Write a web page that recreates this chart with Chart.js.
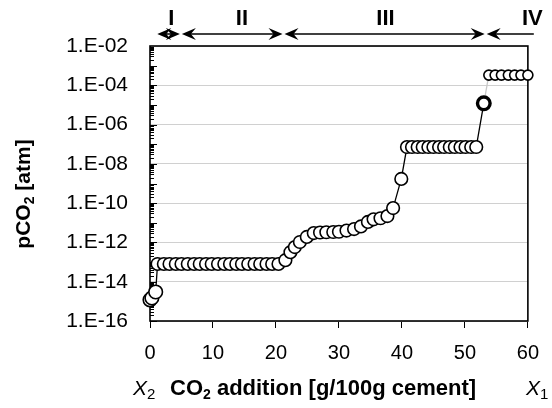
<!DOCTYPE html>
<html><head><meta charset="utf-8">
<script src="https://cdn.jsdelivr.net/npm/chart.js@4/dist/chart.umd.min.js"></script>
<style>html,body{margin:0;padding:0;background:#fff;} canvas{display:block;}</style>
</head><body>
<canvas id="c" width="552" height="408"></canvas>
<script>
// ---- data ----
const initialX = [0, 0.3, 0.9];
const initialY = [1.2e-15, 1.5e-15, 3.0e-15];
const stage2X = [1.2, 2.2, 3.1, 4.1, 5.0, 6.0, 7.0, 7.9, 8.9, 9.8, 10.8, 11.8, 12.7, 13.7, 14.6, 15.6, 16.6, 17.5, 18.5, 19.4, 20.4];
const stage2Y = [8e-14, 8e-14, 8e-14, 8e-14, 8e-14, 8e-14, 8e-14, 8e-14, 8e-14, 8e-14, 8e-14, 8e-14, 8e-14, 8e-14, 8e-14, 8e-14, 8e-14, 8e-14, 8e-14, 8e-14, 8e-14];
const stage3RiseX = [21.5, 22.3, 23.0, 23.8, 24.9, 26.0, 27.0, 28.0, 29.1, 30.0, 31.2, 32.4, 33.5, 34.6, 35.5, 36.6, 37.7, 38.6, 39.9];
const stage3RiseY = [1.25e-13, 3.2e-13, 5.8e-13, 1.05e-12, 1.9e-12, 3.0e-12, 3.2e-12, 3.3e-12, 3.4e-12, 3.5e-12, 4.0e-12, 4.8e-12, 6.5e-12, 1.1e-11, 1.5e-11, 1.7e-11, 2.2e-11, 5.6e-11, 1.7e-9];
const stage3PlateauX = [40.8, 41.6, 42.5, 43.3, 44.2, 45.0, 45.9, 46.7, 47.6, 48.4, 49.3, 50.1, 51.0, 51.8, 53.0];
const stage3PlateauY = [7.2e-8, 7.2e-8, 7.2e-8, 7.2e-8, 7.2e-8, 7.2e-8, 7.2e-8, 7.2e-8, 7.2e-8, 7.2e-8, 7.2e-8, 7.2e-8, 7.2e-8, 7.2e-8, 1.2e-5];
const stage4X = [53.8, 54.8, 55.8, 56.9, 57.9, 58.9, 60.0];
const stage4Y = [3.3e-4, 3.3e-4, 3.3e-4, 3.3e-4, 3.3e-4, 3.3e-4, 3.3e-4];
const yTickValues = [1e-16, 1e-14, 1e-12, 1e-10, 1e-8, 1e-6, 1e-4, 1e-2];
const xTickValues = [0, 10, 20, 30, 40, 50, 60];
const stageNames = ['I', 'II', 'III', 'IV'];
const stageEdges = [1.0, 4.9, 21.2, 53.3, 61.1];
const stageLabelAt = [3.4, 14.6, 37.4, 60.7];

const allX = [...initialX, ...stage2X, ...stage3RiseX, ...stage3PlateauX, ...stage4X];
const allY = [...initialY, ...stage2Y, ...stage3RiseY, ...stage3PlateauY, ...stage4Y];
const points = allX.map((x, i) => ({x: x, y: allY[i]}));

const FONT = "'Liberation Sans', Arial, sans-serif";

function fmtExp(v) {
  const e = Math.round(Math.log10(v));
  return '1.E' + (e < 0 ? '-' : '+') + String(Math.abs(e)).padStart(2, '0');
}

function drawParts(ctx, parts, x, y) {
  let cx = x;
  for (const p of parts) {
    ctx.font = p.font;
    ctx.fillText(p.t, cx, y + (p.dy || 0));
    cx += ctx.measureText(p.t).width;
  }
  return cx - x;
}
function measureParts(ctx, parts) {
  let w = 0;
  for (const p of parts) { ctx.font = p.font; w += ctx.measureText(p.t).width; }
  return w;
}

function arrowHead(ctx, tipX, y, dir) {
  ctx.beginPath();
  ctx.moveTo(tipX, y);
  ctx.lineTo(tipX - dir * 14, y - 6);
  ctx.lineTo(tipX - dir * 9, y);
  ctx.lineTo(tipX - dir * 14, y + 6);
  ctx.closePath();
  ctx.fill();
}

const framePlugin = {
  id: 'frame',
  beforeDatasetsDraw(chart) {
    const {ctx, chartArea: a, scales: {y}} = chart;
    ctx.save();
    ctx.strokeStyle = '#000';
    ctx.lineWidth = 1;
    ctx.beginPath();
    for (let e = -16; e < -2; e++) {
      for (let m = 1; m <= 9; m++) {
        const v = m * Math.pow(10, e);
        const py = Math.round(y.getPixelForValue(v)) + 0.5;
        const len = m === 1 ? 7 : 4;
        ctx.moveTo(a.left, py);
        ctx.lineTo(a.left + len, py);
      }
    }
    ctx.stroke();
    ctx.lineWidth = 1.6;
    ctx.strokeRect(a.left, a.top, a.right - a.left, a.bottom - a.top);
    ctx.restore();
  },
  afterDraw(chart) {
    const {ctx, scales: {x}} = chart;
    ctx.save();
    ctx.fillStyle = '#000';
    ctx.strokeStyle = '#000';
    const ay = 34;
    ctx.lineWidth = 1.5;
    for (let i = 0; i < stageNames.length; i++) {
      const x0 = x.getPixelForValue(stageEdges[i]) + 1;
      const x1 = x.getPixelForValue(stageEdges[i + 1]) - 1;
      ctx.beginPath();
      ctx.moveTo(x0 + 4, ay);
      ctx.lineTo(i === stageNames.length - 1 ? x1 : x1 - 4, ay);
      ctx.stroke();
      arrowHead(ctx, x0, ay, -1);
      if (i < stageNames.length - 1) arrowHead(ctx, x1, ay, 1);
      ctx.font = 'bold 22px ' + FONT;
      ctx.textAlign = 'center';
      ctx.textBaseline = 'middle';
      ctx.fillText(stageNames[i], x.getPixelForValue(stageLabelAt[i]), 19);
    }
    ctx.textAlign = 'left';
    ctx.textBaseline = 'alphabetic';
    const by = 395;
    drawParts(ctx, [
      {t: 'X', font: 'italic 21px ' + FONT},
      {t: '2', font: '15px ' + FONT, dy: 4}
    ], 133, by);
    drawParts(ctx, [
      {t: 'CO', font: 'bold 22px ' + FONT},
      {t: '2', font: 'bold 14px ' + FONT, dy: 4},
      {t: ' addition [g/100g cement]', font: 'bold 22px ' + FONT}
    ], 170, by);
    drawParts(ctx, [
      {t: 'X', font: 'italic 21px ' + FONT},
      {t: '1', font: '15px ' + FONT, dy: 4}
    ], 526, by);
    const yParts = [
      {t: 'pCO', font: 'bold 21px ' + FONT},
      {t: '2', font: 'bold 14px ' + FONT, dy: 4},
      {t: ' [atm]', font: 'bold 21px ' + FONT}
    ];
    const w = measureParts(ctx, yParts);
    ctx.translate(30, 194);
    ctx.rotate(-Math.PI / 2);
    drawParts(ctx, yParts, -w / 2, 0);
    ctx.restore();
  }
};

new Chart(document.getElementById('c'), {
  type: 'line',
  data: {
    datasets: [{
      data: points,
      borderColor: '#000',
      borderWidth: 1.3,
      backgroundColor: '#fff',
      pointBackgroundColor: '#fff',
      pointBorderColor: '#000',
      pointRadius: ctx => { const r = ctx.raw; if (!r) return 6; return r.x > 53.5 ? 5 : (r.x < 1 ? 6.8 : 6.3); },
      pointBorderWidth: ctx => { const r = ctx.raw; return (r && r.x > 52.5 && r.x < 53.5) ? 3.4 : 1.6; },
      pointHoverRadius: 6,
      tension: 0,
      fill: false,
      clip: false,
      segment: {
        borderColor: c => (c.p0.parsed.x < 53.5 && c.p1.parsed.x > 53.5) ? '#c8c8c8' : '#000'
      }
    }]
  },
  options: {
    responsive: false,
    animation: false,
    devicePixelRatio: 1,
    layout: {padding: {left: 0, right: 17, top: 46, bottom: 0}},
    plugins: {legend: {display: false}, tooltip: {enabled: false}},
    scales: {
      x: {
        type: 'linear', min: 0, max: 60,
        afterBuildTicks: s => { s.ticks = xTickValues.map(v => ({value: v})); },
        afterFit: s => { s.height = 87; },
        ticks: {color: '#000', font: {family: FONT, size: 20}, padding: 13, maxRotation: 0},
        grid: {drawOnChartArea: false, drawTicks: true, tickLength: 7, tickColor: '#000', lineWidth: 1},
        border: {display: false}
      },
      y: {
        type: 'logarithmic', min: 1e-16, max: 1e-2,
        afterBuildTicks: s => { s.ticks = yTickValues.map(v => ({value: v})); },
        afterFit: s => { s.width = 150; },
        ticks: {color: '#000', font: {family: FONT, size: 21}, padding: 22, autoSkip: false, callback: v => fmtExp(v)},
        grid: {color: '#d0d0d0', lineWidth: 1, drawTicks: false},
        border: {display: false}
      }
    }
  },
  plugins: [framePlugin]
});
</script>
</body></html>
